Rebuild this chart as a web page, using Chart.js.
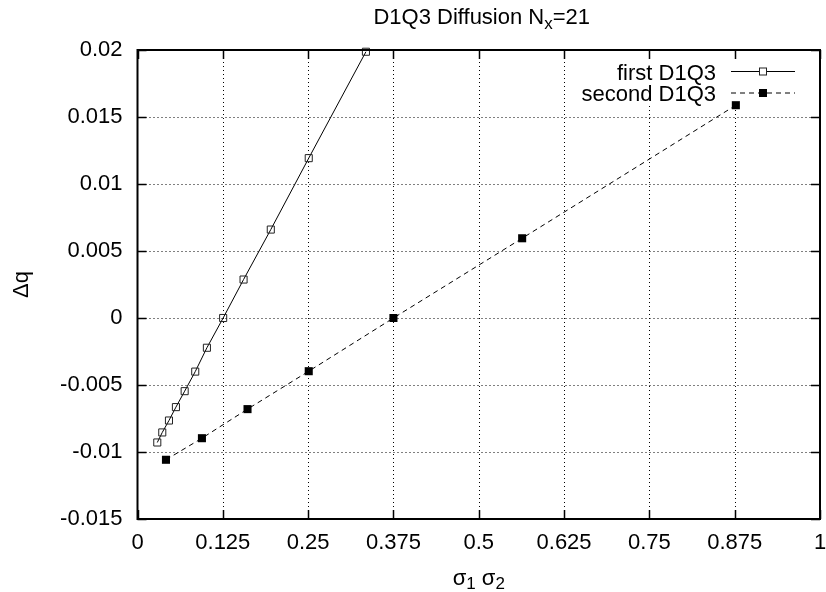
<!DOCTYPE html>
<html>
<head>
<meta charset="utf-8">
<script src="https://cdn.jsdelivr.net/npm/chart.js@4/dist/chart.umd.min.js"></script>
<style>
  html, body { margin: 0; padding: 0; background: #fff; }
  #wrap { width: 826px; height: 592px; position: relative; }
</style>
</head>
<body>
<div id="wrap"><canvas id="c" width="826" height="592"></canvas></div>
<script>
// ---- data ----
const firstLabel = 'first D1Q3';
const firstX = [0.0290, 0.0363, 0.0461, 0.0563, 0.0691, 0.0846, 0.1017, 0.1255, 0.1554, 0.1953, 0.2509, 0.3347];
const firstY = [-0.00929, -0.00854, -0.00765, -0.00665, -0.00546, -0.00400, -0.00222, 0.0000, 0.00287, 0.00660, 0.01193, 0.01987];

const secondLabel = 'second D1Q3';
const secondX = [0.0417, 0.0944, 0.1612, 0.2509, 0.3750, 0.5636, 0.8767];
const secondY = [-0.01058, -0.00897, -0.00680, -0.00397, 0.0000, 0.00595, 0.01588];

const xTicks = [0, 0.125, 0.25, 0.375, 0.5, 0.625, 0.75, 0.875, 1];
const yTicks = [-0.015, -0.01, -0.005, 0, 0.005, 0.01, 0.015, 0.02];

const titleMain = 'D1Q3 Diffusion N';
const titleSub = 'x';
const titleTail = '=21';
const yTitle = 'Δq';
const xTitleParts = [['σ', '1'], ['σ', '2']];

// ---- chart ----
const FONT = '"Liberation Sans", Arial, Helvetica, sans-serif';
const FS = 22;
const SUBFS = 17;

function toPts(xs, ys) { return xs.map((v, i) => ({ x: v, y: ys[i] })); }

const gp = {
  id: 'gp',
  beforeDatasetsDraw(chart) {
    const { ctx, chartArea: a, scales: { x, y } } = chart;
    ctx.save();
    ctx.strokeStyle = '#000';
    ctx.lineWidth = 1;
    ctx.setLineDash([1, 3]);
    xTicks.forEach(v => {
      if (v <= x.min || v >= x.max) return;
      const px = Math.round(x.getPixelForValue(v)) + 0.5;
      ctx.beginPath(); ctx.moveTo(px, a.top); ctx.lineTo(px, a.bottom); ctx.stroke();
    });
    yTicks.forEach(v => {
      if (v <= y.min || v >= y.max) return;
      const py = Math.round(y.getPixelForValue(v)) + 0.5;
      ctx.beginPath(); ctx.moveTo(a.left, py); ctx.lineTo(a.right, py); ctx.stroke();
    });
    ctx.setLineDash([]);
    // key box area masks the grid
    ctx.fillStyle = '#fff';
    ctx.fillRect(a.right - 247, a.top + 1, 246, 53);
    ctx.restore();
  },
  afterDatasetsDraw(chart) {
    const { ctx, chartArea: a, scales: { x, y } } = chart;
    ctx.save();
    ctx.strokeStyle = '#000';
    ctx.setLineDash([]);
    ctx.lineWidth = 1.5;
    const TL = 9;
    xTicks.forEach(v => {
      const px = Math.round(x.getPixelForValue(v)) + 0.5;
      ctx.beginPath();
      ctx.moveTo(px, a.bottom); ctx.lineTo(px, a.bottom - TL);
      ctx.moveTo(px, a.top); ctx.lineTo(px, a.top + TL);
      ctx.stroke();
    });
    yTicks.forEach(v => {
      const py = Math.round(y.getPixelForValue(v)) + 0.5;
      ctx.beginPath();
      ctx.moveTo(a.left, py); ctx.lineTo(a.left + TL, py);
      ctx.moveTo(a.right, py); ctx.lineTo(a.right - TL, py);
      ctx.stroke();
    });
    ctx.lineWidth = 2;
    ctx.strokeRect(a.left, a.top, a.right - a.left, a.bottom - a.top);
    ctx.restore();
  },
  afterDraw(chart) {
    const { ctx, chartArea: a } = chart;
    ctx.save();
    ctx.fillStyle = '#000';
    ctx.textBaseline = 'alphabetic';

    // key
    ctx.font = FS + 'px ' + FONT;
    ctx.textAlign = 'right';
    const kx = a.right - 104, ky1 = a.top + 29.5, ky2 = a.top + 51;
    ctx.fillText(firstLabel, kx, ky1);
    ctx.fillText(secondLabel, kx, ky2);
    const l0 = a.right - 89, l1 = a.right - 25, lm = a.right - 57;
    const yy1 = ky1 - 8, yy2 = ky2 - 8;
    ctx.strokeStyle = '#000';
    ctx.lineWidth = 1;
    ctx.beginPath(); ctx.moveTo(l0, yy1); ctx.lineTo(l1, yy1); ctx.stroke();
    ctx.setLineDash([5, 4]);
    ctx.beginPath(); ctx.moveTo(l0, yy2); ctx.lineTo(l1, yy2); ctx.stroke();
    ctx.setLineDash([]);
    ctx.fillStyle = '#fff';
    ctx.fillRect(lm - 3.5, yy1 - 3.5, 7, 7);
    ctx.strokeStyle = '#222';
    ctx.strokeRect(lm - 3.5, yy1 - 3.5, 7, 7);
    ctx.fillStyle = '#000';
    ctx.fillRect(lm - 4, yy2 - 4, 8, 8);

    // title with subscript
    ctx.textAlign = 'left';
    ctx.font = FS + 'px ' + FONT;
    const w1 = ctx.measureText(titleMain).width;
    const w3 = ctx.measureText(titleTail).width;
    ctx.font = SUBFS + 'px ' + FONT;
    const w2 = ctx.measureText(titleSub).width;
    const tw = w1 + w2 + w3;
    const tcx = (a.left + a.right) / 2 + 3;
    const tx = tcx - tw / 2;
    const tby = 23.5;
    ctx.font = FS + 'px ' + FONT;
    ctx.fillText(titleMain, tx, tby);
    ctx.font = SUBFS + 'px ' + FONT;
    ctx.fillText(titleSub, tx + w1, tby + 5);
    ctx.font = FS + 'px ' + FONT;
    ctx.fillText(titleTail, tx + w1 + w2, tby);

    // x axis title
    const parts = [];
    let total = 0;
    xTitleParts.forEach(p => {
      ctx.font = FS + 'px ' + FONT;
      const wa = ctx.measureText(p[0]).width;
      ctx.font = SUBFS + 'px ' + FONT;
      const wb = ctx.measureText(p[1]).width;
      parts.push([wa, wb]);
      total += wa + wb;
    });
    ctx.font = FS + 'px ' + FONT;
    const sp = ctx.measureText(' ').width;
    total += sp * (xTitleParts.length - 1);
    let xx = (a.left + a.right) / 2 - total / 2;
    const xby = 585;
    xTitleParts.forEach((p, i) => {
      ctx.font = FS + 'px ' + FONT;
      ctx.fillText(p[0], xx, xby);
      xx += parts[i][0];
      ctx.font = SUBFS + 'px ' + FONT;
      ctx.fillText(p[1], xx, xby + 4);
      xx += parts[i][1] + sp;
    });

    // y axis title
    ctx.save();
    ctx.translate(22, (a.top + a.bottom) / 2);
    ctx.rotate(-Math.PI / 2);
    ctx.font = FS + 'px ' + FONT;
    ctx.textAlign = 'center';
    ctx.textBaseline = 'middle';
    ctx.fillText(yTitle, 0, 0);
    ctx.restore();

    ctx.restore();
  }
};

new Chart(document.getElementById('c'), {
  type: 'scatter',
  data: {
    datasets: [
      {
        label: firstLabel,
        data: toPts(firstX, firstY),
        showLine: true,
        borderColor: '#000',
        borderWidth: 1,
        pointStyle: 'rect',
        pointRadius: 5,
        pointBorderWidth: 1,
        pointBorderColor: '#222',
        pointBackgroundColor: 'rgba(255,255,255,0)',
        pointHoverRadius: 5,
        clip: false
      },
      {
        label: secondLabel,
        data: toPts(secondX, secondY),
        showLine: true,
        borderColor: '#000',
        borderWidth: 1,
        borderDash: [5, 4],
        pointStyle: 'rect',
        pointRadius: 5.7,
        pointBorderWidth: 0,
        pointBackgroundColor: '#000',
        pointHoverRadius: 5.7,
        clip: false
      }
    ]
  },
  options: {
    responsive: false,
    animation: false,
    devicePixelRatio: 1,
    layout: { padding: { top: 50, right: 5, bottom: 1, left: 0 } },
    plugins: { legend: { display: false }, title: { display: false }, tooltip: { enabled: false } },
    events: [],
    scales: {
      x: {
        type: 'linear',
        min: 0, max: 1,
        afterBuildTicks: s => { s.ticks = xTicks.map(v => ({ value: v })); },
        afterFit: s => { s.height = 72; s.paddingLeft = 0; s.paddingRight = 0; },
        grid: { display: false, drawTicks: false },
        border: { display: false },
        ticks: {
          color: '#000',
          font: { family: FONT, size: FS },
          padding: 11,
          maxRotation: 0,
          autoSkip: false,
          callback: v => String(v)
        }
      },
      y: {
        type: 'linear',
        min: -0.015, max: 0.02,
        afterBuildTicks: s => { s.ticks = yTicks.map(v => ({ value: v })); },
        afterFit: s => { s.width = 137.5; s.paddingTop = 0; s.paddingBottom = 0; },
        grid: { display: false, drawTicks: false },
        border: { display: false },
        ticks: {
          color: '#000',
          font: { family: FONT, size: FS },
          padding: 15,
          autoSkip: false,
          callback: v => String(+v.toFixed(4))
        }
      }
    }
  },
  plugins: [gp]
});
</script>
</body>
</html>
